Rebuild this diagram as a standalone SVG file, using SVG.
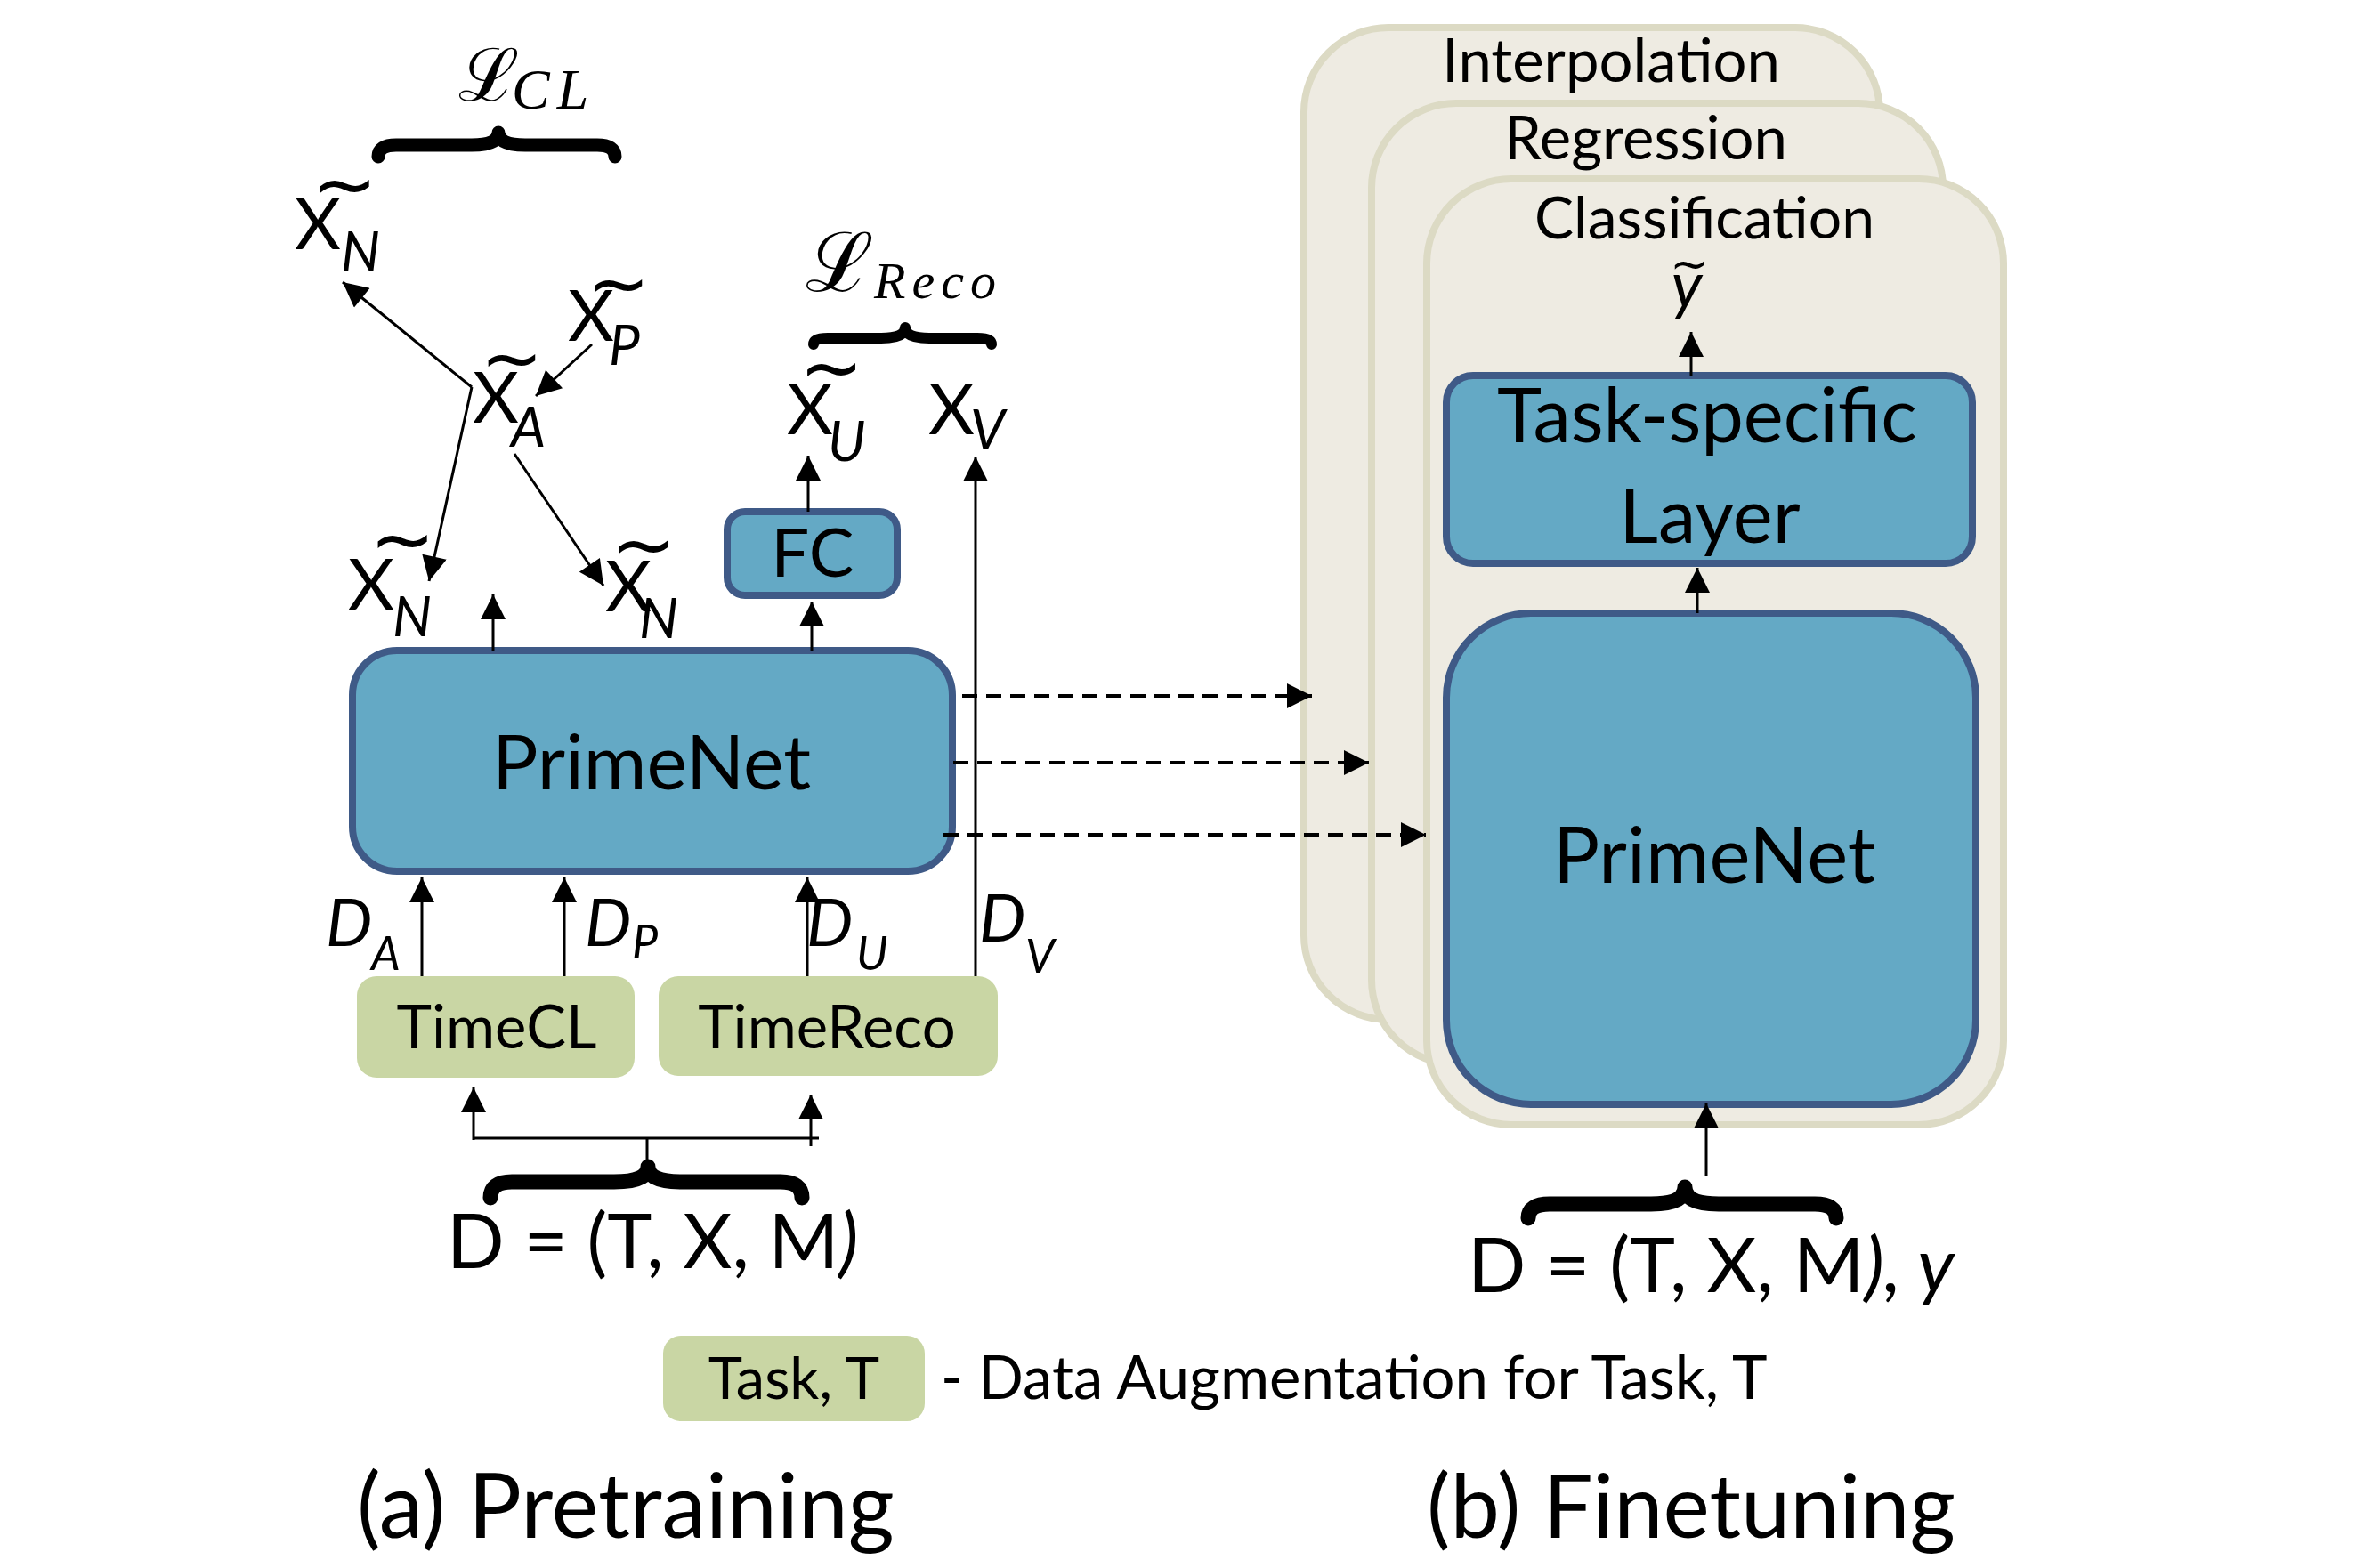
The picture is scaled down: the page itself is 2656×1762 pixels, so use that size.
<svg xmlns="http://www.w3.org/2000/svg" width="2656" height="1762" viewBox="0 0 2656 1762">
<defs>
<style>
.t{font-family:Lato,"Open Sans",sans-serif;fill:#000}
.ti{font-family:Lato,"Open Sans",sans-serif;font-style:italic;fill:#000}
.tl{font-family:"DejaVu Sans",sans-serif;fill:#000}
.ms{font-family:"DejaVu Serif",serif;fill:#000}
.mi{font-family:"Liberation Serif",serif;font-style:italic;fill:#000}
.blue{fill:#64a9c5;stroke:#3f5a87;stroke-width:8}
.green{fill:#c9d6a4}
.card{fill:#eeebe2;stroke:#dcdac4;stroke-width:8}
.ln{fill:none;stroke:#000;stroke-width:3}
.dash{fill:none;stroke:#000;stroke-width:4;stroke-dasharray:17 10}
.brace{fill:none;stroke:#000;stroke-linecap:round;stroke-linejoin:round}
</style>
<marker id="ah" viewBox="0 0 10 10" refX="10" refY="5" markerWidth="30" markerHeight="28" markerUnits="userSpaceOnUse" orient="auto"><path d="M0,0 L10,5 L0,10 z" fill="#000"/></marker>
</defs>
<rect width="2656" height="1762" fill="#fff"/>

<!-- Finetuning cards -->
<g id="card-interpolation">
<rect class="card" x="1465" y="31" width="647" height="1115" rx="95"/>
<text class="t" x="1810" y="92" font-size="67" text-anchor="middle">Interpolation</text>
</g>
<g id="card-regression">
<rect class="card" x="1541" y="116" width="642" height="1080" rx="95"/>
<text class="t" x="1849" y="179" font-size="67" text-anchor="middle">Regression</text>
</g>
<g id="card-classification">
<rect class="card" x="1603" y="201" width="648" height="1063" rx="95"/>
<text class="t" x="1915" y="268" font-size="66" text-anchor="middle">Classification</text>
</g>

<!-- Pretraining nodes -->
<g id="primenet-a">
<rect class="blue" x="396" y="731" width="674" height="248" rx="50"/>
<text class="t" x="732" y="887" font-size="86" text-anchor="middle">PrimeNet</text>
</g>
<g id="fc">
<rect class="blue" x="817" y="575" width="191" height="94" rx="20"/>
<text class="t" x="913" y="648" font-size="76" text-anchor="middle">FC</text>
</g>
<g id="timecl">
<rect class="green" x="401" y="1097" width="312" height="114" rx="22"/>
<text class="t" x="558" y="1178" font-size="67" text-anchor="middle">TimeCL</text>
</g>
<g id="timereco">
<rect class="green" x="740" y="1097" width="381" height="112" rx="22"/>
<text class="t" x="929" y="1178" font-size="67" text-anchor="middle">TimeReco</text>
</g>

<!-- Finetuning nodes -->
<g id="task-layer">
<rect class="blue" x="1625" y="422" width="591" height="211" rx="30"/>
<text class="t" x="1918" y="497" font-size="85" text-anchor="middle">Task-specific</text>
<text class="t" x="1921" y="610" font-size="85" text-anchor="middle">Layer</text>
</g>
<g id="primenet-b">
<rect class="blue" x="1625" y="689" width="595" height="552" rx="95"/>
<text class="t" x="1926" y="992" font-size="87" text-anchor="middle">PrimeNet</text>
</g>

<!-- Connectors -->
<g id="connectors">
<line class="ln" x1="530" y1="435" x2="385" y2="317" marker-end="url(#ah)"/>
<line class="ln" x1="530" y1="435" x2="482" y2="653" marker-end="url(#ah)"/>
<line class="ln" x1="665" y1="387" x2="602" y2="445" marker-end="url(#ah)"/>
<line class="ln" x1="578" y1="510" x2="678" y2="658" marker-end="url(#ah)"/>
<line class="ln" x1="554" y1="731" x2="554" y2="668" marker-end="url(#ah)"/>
<line class="ln" x1="912" y1="731" x2="912" y2="676" marker-end="url(#ah)"/>
<line class="ln" x1="908" y1="575" x2="908" y2="512" marker-end="url(#ah)"/>
<line class="ln" x1="1096" y1="1097" x2="1096" y2="513" marker-end="url(#ah)"/>
<line class="ln" x1="474" y1="1097" x2="474" y2="986" marker-end="url(#ah)"/>
<line class="ln" x1="634" y1="1097" x2="634" y2="986" marker-end="url(#ah)"/>
<line class="ln" x1="907" y1="1097" x2="907" y2="986" marker-end="url(#ah)"/>
<polyline class="ln" points="532,1279 920,1279"/>
<line class="ln" x1="727" y1="1279" x2="727" y2="1311"/>
<line class="ln" x1="532" y1="1281" x2="532" y2="1222" marker-end="url(#ah)"/>
<line class="ln" x1="911" y1="1288" x2="911" y2="1230" marker-end="url(#ah)"/>
<line class="dash" x1="1081" y1="782" x2="1474" y2="782" marker-end="url(#ah)"/>
<line class="dash" x1="1071" y1="857" x2="1538" y2="857" marker-end="url(#ah)"/>
<line class="dash" x1="1060" y1="938" x2="1602" y2="938" marker-end="url(#ah)"/>
<line class="ln" x1="1900" y1="422" x2="1900" y2="373" marker-end="url(#ah)"/>
<line class="ln" x1="1907" y1="689" x2="1907" y2="638" marker-end="url(#ah)"/>
<line class="ln" x1="1917" y1="1322" x2="1917" y2="1240" marker-end="url(#ah)"/>
</g>

<!-- Braces -->
<g id="braces">
<path class="brace" stroke-width="15" d="M425,176 Q425,163 445,163 L530,163 Q560,163 560,149 Q560,163 590,163 L671,163 Q691,163 691,176"/>
<path class="brace" stroke-width="12" d="M914,387 Q914,380 930,380 L990,380 Q1017,380 1017,368 Q1017,380 1044,380 L1098,380 Q1114,380 1114,387"/>
<path class="brace" stroke-width="17" d="M551,1346 Q551,1328 575,1328 L690,1328 Q728,1328 728,1311 Q728,1328 766,1328 L877,1328 Q901,1328 901,1346"/>
<path class="brace" stroke-width="17" d="M1717,1369 Q1717,1353 1741,1353 L1855,1353 Q1893,1353 1893,1334 Q1893,1353 1931,1353 L2039,1353 Q2063,1353 2063,1369"/>
</g>

<!-- Loss labels -->
<g id="loss-cl">
<text class="ms" x="515" y="113" font-size="82">ℒ</text>
<text class="mi" x="575" y="122" font-size="64" letter-spacing="8">CL</text>
</g>
<g id="loss-reco">
<text class="ms" x="905" y="327" font-size="92">ℒ</text>
<text class="mi" x="982" y="335" font-size="58" letter-spacing="7">Reco</text>
</g>

<!-- Variable labels -->
<g id="xn-top">
<text class="t" x="331" y="280" font-size="80">X</text>
<text class="ti" x="383" y="305" font-size="62">N</text>
<text class="tl" x="387" y="237" font-size="88" text-anchor="middle">~</text>
</g>
<g id="xp">
<text class="t" x="638" y="383" font-size="80">X</text>
<text class="ti" x="684" y="410" font-size="62">P</text>
<text class="tl" x="695" y="347" font-size="84" text-anchor="middle">~</text>
</g>
<g id="xa">
<text class="t" x="531" y="475" font-size="80">X</text>
<text class="ti" x="574" y="502" font-size="62">A</text>
<text class="tl" x="575" y="431" font-size="84" text-anchor="middle">~</text>
</g>
<g id="xn-left">
<text class="t" x="391" y="685" font-size="80">X</text>
<text class="ti" x="441" y="715" font-size="62">N</text>
<text class="tl" x="452" y="636" font-size="88" text-anchor="middle">~</text>
</g>
<g id="xn-right">
<text class="t" x="680" y="687" font-size="80">X</text>
<text class="ti" x="718" y="717" font-size="62">N</text>
<text class="tl" x="723" y="642" font-size="88" text-anchor="middle">~</text>
</g>
<g id="xu">
<text class="t" x="884" y="488" font-size="80">X</text>
<text class="ti" x="930" y="518" font-size="62">U</text>
<text class="tl" x="934" y="443" font-size="86" text-anchor="middle">~</text>
</g>
<g id="xv">
<text class="t" x="1043" y="488" font-size="80">X</text>
<text class="ti" x="1090" y="505" font-size="62">V</text>
</g>
<g id="d-labels">
<text class="ti" x="366" y="1063" font-size="74">D</text>
<text class="ti" x="417" y="1090" font-size="52">A</text>
<text class="ti" x="657" y="1063" font-size="74">D</text>
<text class="ti" x="710" y="1077" font-size="52">P</text>
<text class="ti" x="906" y="1063" font-size="74">D</text>
<text class="ti" x="962" y="1090" font-size="52">U</text>
<text class="ti" x="1100" y="1058" font-size="74">D</text>
<text class="ti" x="1152" y="1093" font-size="52">V</text>
</g>
<g id="y-tilde">
<text class="ti" x="1895" y="346" font-size="72" text-anchor="middle">y</text>
<text class="tl" x="1898" y="314" font-size="52" text-anchor="middle">~</text>
</g>

<!-- Data labels -->
<text class="t" x="502" y="1425" font-size="85">D = (T, X, M<tspan font-style="italic">)</tspan></text>
<text class="t" x="1649" y="1452" font-size="86">D = (T, X, M<tspan font-style="italic">), y</tspan></text>

<!-- Legend -->
<g id="legend">
<rect class="green" x="745" y="1501" width="294" height="96" rx="20"/>
<text class="t" x="892" y="1572" font-size="65" text-anchor="middle">Task, T</text>
<text class="t" x="1057" y="1572" font-size="67">- Data Augmentation for Task, T</text>
</g>

<!-- Captions -->
<text class="t" x="401" y="1728" font-size="100">(a) Pretraining</text>
<text class="t" x="1603" y="1728" font-size="99">(b) Finetuning</text>
</svg>
